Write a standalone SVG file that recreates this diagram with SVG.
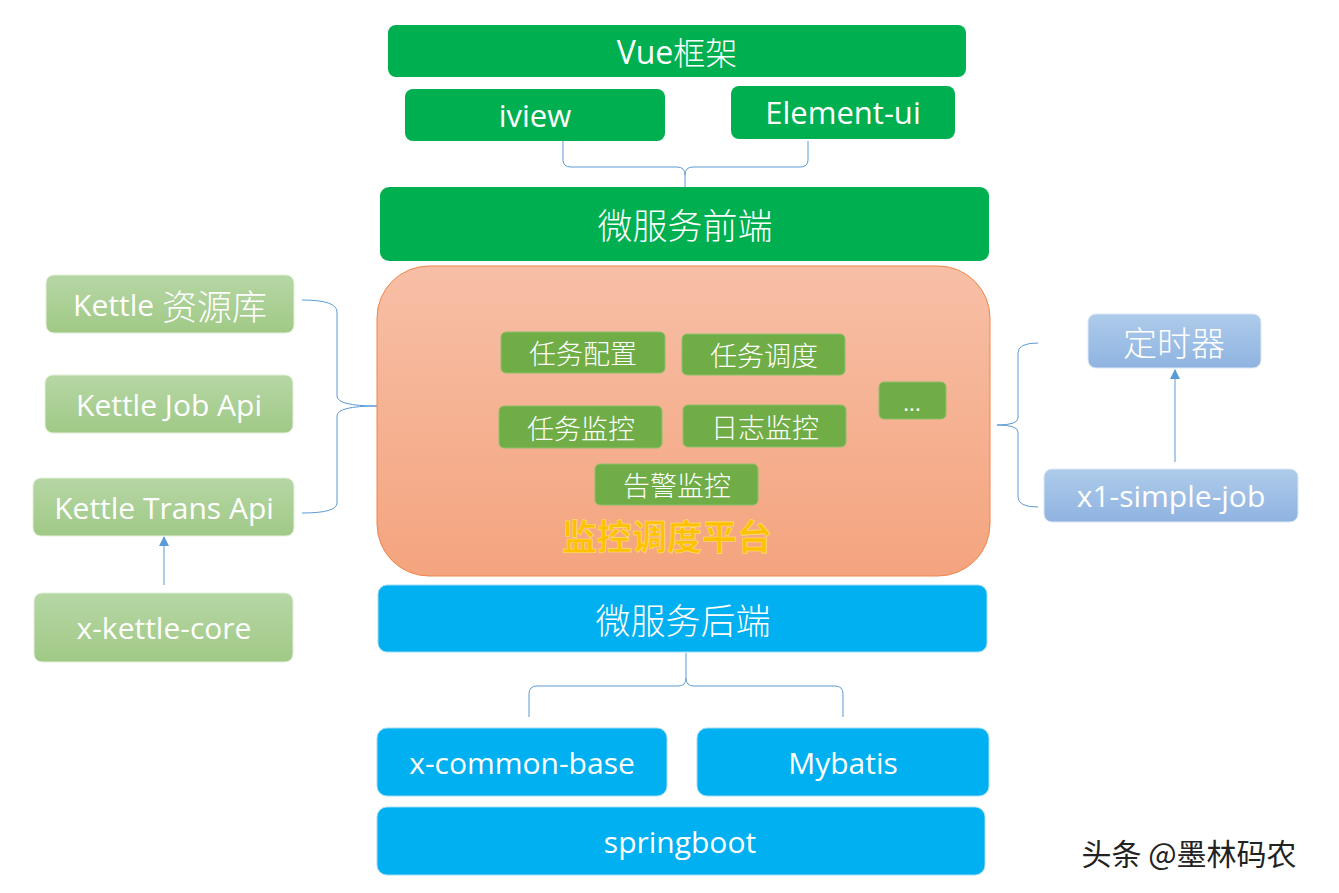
<svg xmlns="http://www.w3.org/2000/svg" width="1339" height="893" viewBox="0 0 1339 893">
<defs>
<linearGradient id="gOrange" x1="0" y1="0" x2="0" y2="1"><stop offset="0" stop-color="#f7bfa6"/><stop offset="1" stop-color="#f4a47e"/></linearGradient>
<linearGradient id="gLeaf" x1="0" y1="0" x2="0" y2="1"><stop offset="0" stop-color="#b6d7a5"/><stop offset="1" stop-color="#a0c986"/></linearGradient>
<linearGradient id="gSky" x1="0" y1="0" x2="0" y2="1"><stop offset="0" stop-color="#aecbea"/><stop offset="1" stop-color="#8fb3e1"/></linearGradient>
<marker id="arr" viewBox="0 0 10 10" refX="9" refY="5" markerWidth="10" markerHeight="10" markerUnits="userSpaceOnUse" orient="auto"><path d="M0,0 L10,5 L0,10 z" fill="#5b9bd5"/></marker>
<style>
.g{fill:#00b050;}
.c{fill:#00b0f0;stroke:#9fdcf5;stroke-width:1;}
.l{fill:url(#gLeaf);stroke:#e2efda;stroke-width:1;}
.s{fill:url(#gSky);stroke:#dbe7f5;stroke-width:1;}
.i{fill:#70ad47;stroke:#8cc06a;stroke-width:1;}
.t{fill:#ffffff;font-family:"Open Sans","Noto Sans CJK SC",sans-serif;text-anchor:middle;dominant-baseline:central;}
.z{font-family:"Noto Sans CJK SC",sans-serif;font-weight:300;}
.br{fill:none;stroke:#5b9bd5;stroke-width:1;}
</style>
</defs>

<g id="connectors">
<path class="br" d="M563,141 L563,160 Q563,167 571,167 L677,167 Q685,167 685,175 L685,187 M808,141 L808,160 Q808,167 800,167 L693,167 Q685,167 685,175"/>
<path class="br" d="M686,653 L686,678 Q686,686 678,686 L537,686 Q529,686 529,694 L529,717 M686,678 Q686,686 694,686 L835,686 Q843,686 843,694 L843,717"/>
<path class="br" d="M302,300 Q337,300 337,312 L337,396 Q337,406 377,406 M377,406 Q337,406 337,416 L337,503 Q337,513 302,513"/>
<path class="br" d="M1038,343 Q1018,343 1018,353 L1018,418 Q1018,425 997,425 M997,425 Q1018,425 1018,432 L1018,497 Q1018,507 1038,507"/>
<line class="br" x1="164" y1="585" x2="164" y2="537" marker-end="url(#arr)"/>
<line class="br" x1="1175" y1="462" x2="1175" y2="370" marker-end="url(#arr)"/>
</g>

<g id="vue"><rect class="g" x="388" y="25" width="578" height="52" rx="8"/><text class="t" x="677" y="51" font-size="32">Vue<tspan class="z">框架</tspan></text></g>
<g id="iview"><rect class="g" x="405" y="89" width="260" height="52" rx="8"/><text class="t" x="535" y="115" font-size="31">iview</text></g>
<g id="element"><rect class="g" x="731" y="86" width="224" height="53" rx="8"/><text class="t" x="843" y="112" font-size="31">Element-ui</text></g>
<g id="frontend"><rect class="g" x="380" y="187" width="609" height="74" rx="9"/><text class="t z" x="685" y="223" font-size="35">微服务前端</text></g>

<g id="platform">
<rect x="377" y="266" width="613" height="310" rx="52" fill="url(#gOrange)" stroke="#f0864a" stroke-width="1"/>
<text x="667" y="534" font-size="35" font-weight="bold" fill="#ffc000" stroke="#ffe07a" stroke-width="0.6" text-anchor="middle" dominant-baseline="central" font-family="Noto Sans CJK SC,sans-serif">监控调度平台</text>
</g>
<g id="cfg"><rect class="i" x="501" y="332" width="164" height="41" rx="5"/><text class="t z" x="583" y="352" font-size="27">任务配置</text></g>
<g id="sched"><rect class="i" x="682" y="334" width="163" height="41" rx="5"/><text class="t z" x="764" y="354" font-size="27">任务调度</text></g>
<g id="mon"><rect class="i" x="499" y="406" width="163" height="42" rx="5"/><text class="t z" x="581" y="427" font-size="27">任务监控</text></g>
<g id="log"><rect class="i" x="683" y="405" width="163" height="42" rx="5"/><text class="t z" x="765" y="426" font-size="27">日志监控</text></g>
<g id="alarm"><rect class="i" x="595" y="464" width="163" height="41" rx="5"/><text class="t z" x="677" y="484" font-size="27">告警监控</text></g>
<g id="more"><rect class="i" x="879" y="382" width="67" height="37" rx="5"/><text class="t" x="912" y="402" font-size="22">...</text></g>

<g id="repo"><rect class="l" x="46" y="275" width="248" height="58" rx="8"/><text class="t" x="170" y="304" font-size="30">Kettle <tspan class="z" font-size="35">资源库</tspan></text></g>
<g id="jobapi"><rect class="l" x="45" y="375" width="248" height="58" rx="8"/><text class="t" x="169" y="404" font-size="30">Kettle Job Api</text></g>
<g id="transapi"><rect class="l" x="33" y="478" width="261" height="58" rx="8"/><text class="t" x="164" y="507" font-size="30">Kettle Trans Api</text></g>
<g id="core"><rect class="l" x="34" y="593" width="259" height="69" rx="8"/><text class="t" x="164" y="627" font-size="30">x-kettle-core</text></g>

<g id="timer"><rect class="s" x="1088" y="314" width="173" height="54" rx="8"/><text class="t z" x="1174" y="341" font-size="34">定时器</text></g>
<g id="simplejob"><rect class="s" x="1044" y="469" width="254" height="53" rx="8"/><text class="t" x="1171" y="495" font-size="30">x1-simple-job</text></g>

<g id="backend"><rect class="c" x="378" y="585" width="609" height="67" rx="9"/><text class="t z" x="683" y="618" font-size="35">微服务后端</text></g>
<g id="common"><rect class="c" x="377" y="728" width="290" height="68" rx="10"/><text class="t" x="522" y="762" font-size="30">x-common-base</text></g>
<g id="mybatis"><rect class="c" x="697" y="728" width="292" height="68" rx="10"/><text class="t" x="843" y="762" font-size="30">Mybatis</text></g>
<g id="springboot"><rect class="c" x="377" y="807" width="608" height="68" rx="10"/><text class="t" x="680" y="841" font-size="30">springboot</text></g>

<text x="1189" y="852" font-size="30" fill="#222222" text-anchor="middle" dominant-baseline="central" font-family="Noto Sans CJK SC,sans-serif">头条 @墨林码农</text>
</svg>
